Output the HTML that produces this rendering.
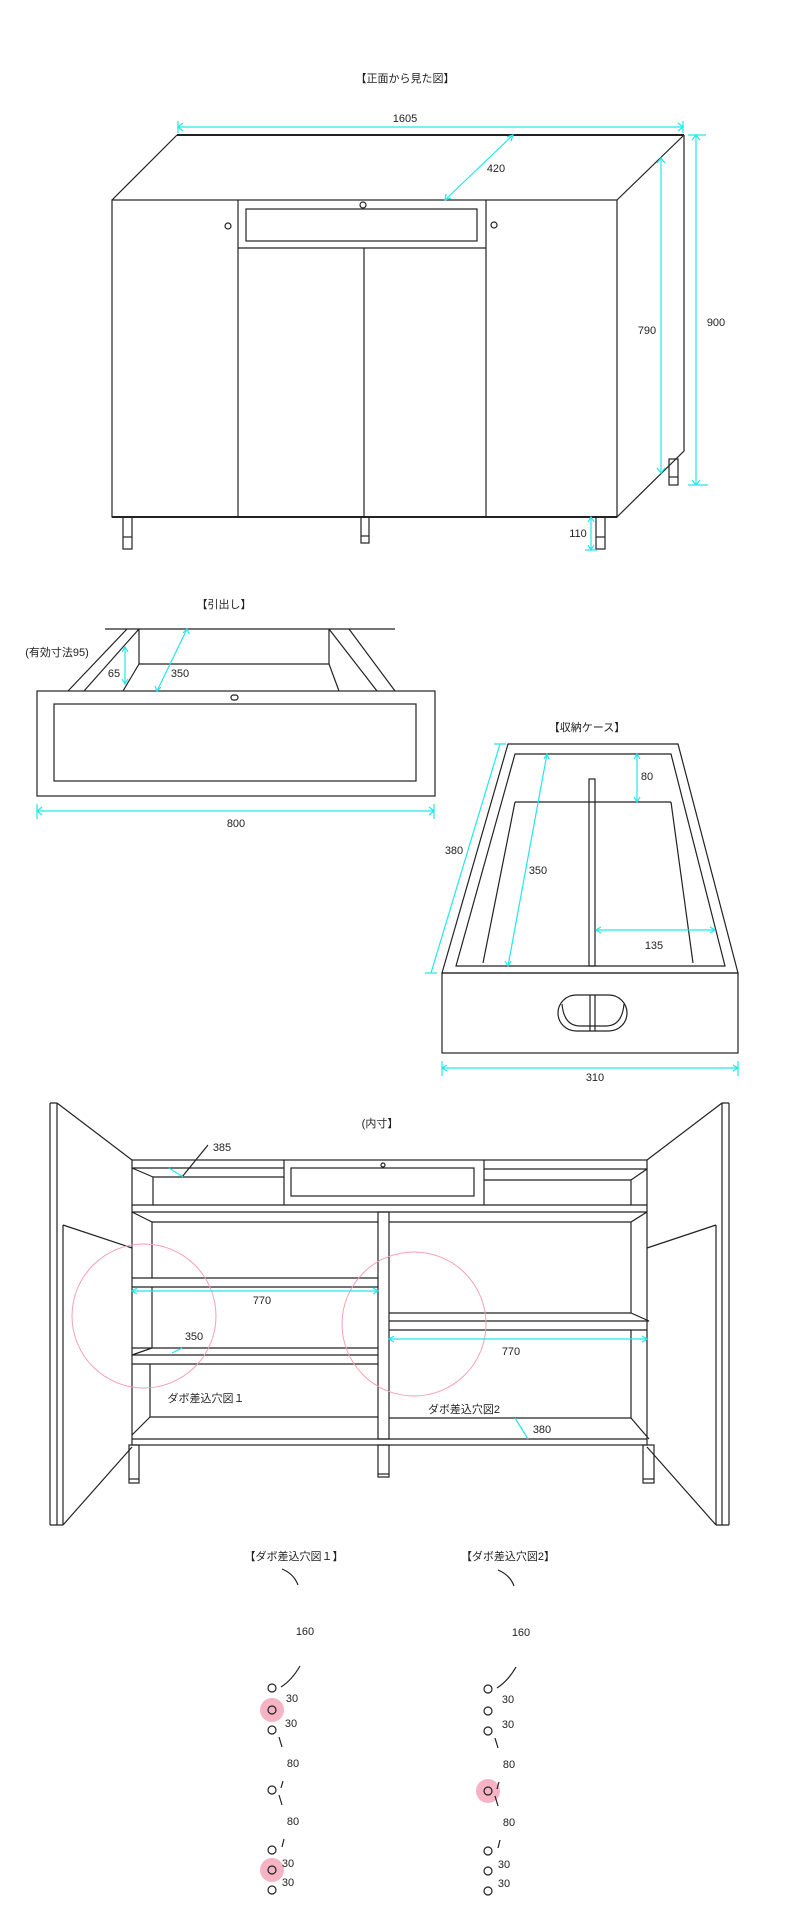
<!DOCTYPE html>
<html><head><meta charset="utf-8"><style>
html,body{margin:0;padding:0;background:#fff}
svg{display:block}
text{font-family:"Liberation Sans","Noto Sans CJK JP",sans-serif;font-size:11px;fill:#222;text-anchor:middle}
.l{stroke:#222;stroke-width:1.2;fill:none}
.t{stroke:#222;stroke-width:2;fill:none}
.c{stroke:#22e6ee;stroke-width:1.2;fill:none}
.p{stroke:#f4a0b0;stroke-width:1;fill:none}
</style></head><body>
<svg width="800" height="1928" viewBox="0 0 800 1928" xmlns="http://www.w3.org/2000/svg">
<!-- Front view -->
<text x="405" y="82">【正面から見た図】</text>
<text x="405" y="122">1605</text>
<line class="c" x1="178" y1="127" x2="683" y2="127"/>
<path class="c" d="M183 123 L178 127 L183 131 M678 123 L683 127 L678 131 M178 121V133 M683 121V133"/>
<path class="t" d="M177 135 H684"/>
<path class="l" d="M177 135 L112 200 M684 135 L617 200 M684 135 V451 L617 517"/>
<rect class="l" x="112" y="200" width="505" height="317"/>
<path class="t" d="M112 517 H617"/>
<path class="l" d="M238 200V517 M364 248V517 M486 200V517 M238 248H486"/>
<rect class="l" x="246" y="209" width="231" height="32"/>
<circle class="l" cx="363" cy="205" r="3"/><circle class="l" cx="228" cy="226" r="3"/><circle class="l" cx="494" cy="225" r="3"/>
<rect class="l" x="123" y="517" width="9" height="32"/><path class="l" d="M123 537H132"/>
<rect class="l" x="361" y="517" width="8" height="26"/><path class="l" d="M361 536H369"/>
<rect class="l" x="596" y="517" width="9" height="32"/><path class="l" d="M596 537H605"/>
<rect class="l" x="669" y="459" width="9" height="26"/><path class="l" d="M669 477H678"/>
<line class="c" x1="513" y1="135" x2="445" y2="200"/>
<path class="c" d="M507 137 L513 135 L511 141 M446 194 L445 200 L451 198"/>
<text x="496" y="172">420</text>
<line class="c" x1="661" y1="158" x2="661" y2="473"/>
<path class="c" d="M657 163 L661 158 L665 163 M657 468 L661 473 L665 468"/>
<text x="647" y="334">790</text>
<line class="c" x1="696" y1="135" x2="696" y2="485"/>
<path class="c" d="M688 135H706 M688 485H708 M692 140L696 135L700 140 M692 480L696 485L700 480"/>
<text x="716" y="326">900</text>
<line class="c" x1="591" y1="517" x2="591" y2="550"/>
<path class="c" d="M585 550H597 M588 522L591 517L594 522 M588 545L591 550L594 545"/>
<text x="578" y="537">110</text>

<!-- Drawer -->
<text x="224" y="608">【引出し】</text>
<path class="l" d="M105 629H395"/>
<rect class="l" x="37" y="691" width="398" height="105"/>
<rect class="l" x="54" y="704" width="362" height="77"/>
<rect class="l" x="231" y="695" width="7" height="5" rx="2.5"/>
<path class="l" d="M139 629V664H329V629 M127 629L68 691 M139 629L84 691 M139 664L123 691 M329 629L377 691 M349 629L395 691 M329 664L339 691"/>
<line class="c" x1="125" y1="647" x2="125" y2="684"/>
<path class="c" d="M122 652L125 647L128 652 M122 679L125 684L128 679"/>
<text x="114" y="677">65</text>
<line class="c" x1="187" y1="629" x2="157" y2="691"/>
<path class="c" d="M183 633L187 629L189 634 M155 686L157 691L161 687"/>
<text x="180" y="677">350</text>
<text x="57" y="656">(有効寸法95)</text>
<line class="c" x1="37" y1="811" x2="434" y2="811"/>
<path class="c" d="M37 804V819 M434 804V819 M42 807L37 811L42 815 M429 807L434 811L429 815"/>
<text x="236" y="827">800</text>

<!-- Storage case -->
<text x="587" y="731">【収納ケース】</text>
<path class="l" d="M508 744H678L738 973H442Z"/>
<rect class="l" x="442" y="973" width="296" height="80"/>
<path class="l" d="M515 754H671L725 966H456Z M515 802H671 M515 802L483 963 M671 802L693 963"/>
<rect class="l" x="589" y="779" width="6" height="187" fill="#fff"/>
<rect class="l" x="558" y="995" width="69" height="36" rx="18"/>
<path class="l" d="M562 1004 Q564 1026 580 1026 H606 Q622 1026 624 1004 M590 995V1031 M595 995V1031"/>
<line class="c" x1="500" y1="744" x2="431" y2="973"/>
<path class="c" d="M494 744H506 M425 973H437"/>
<text x="454" y="854">380</text>
<line class="c" x1="547" y1="754" x2="508" y2="966"/>
<path class="c" d="M544 759L547 754L549 759 M505 961L508 966L511 961"/>
<text x="538" y="874">350</text>
<line class="c" x1="637" y1="754" x2="637" y2="802"/>
<path class="c" d="M634 759L637 754L640 759 M634 797L637 802L640 797"/>
<text x="647" y="780">80</text>
<line class="c" x1="596" y1="930" x2="715" y2="930"/>
<path class="c" d="M601 927L596 930L601 933 M710 927L715 930L710 933"/>
<text x="654" y="949">135</text>
<line class="c" x1="442" y1="1068" x2="738" y2="1068"/>
<path class="c" d="M442 1061V1076 M738 1061V1076 M447 1065L442 1068L447 1071 M733 1065L738 1068L733 1071"/>
<text x="595" y="1081">310</text>

<!-- Interior -->
<text x="380" y="1127">(内寸】</text>
<path class="l" d="M50 1103V1525 M57 1103V1525 M63 1225V1525 M50 1103H57 M50 1525H63 M57 1103L132 1160 M63 1225L132 1248 M63 1525L132 1447"/>
<path class="l" d="M729 1103V1525 M722 1103V1525 M716 1225V1525 M722 1103H729 M716 1525H729 M722 1103L647 1160 M716 1225L647 1248 M716 1525L647 1447"/>
<rect class="l" x="132" y="1160" width="515" height="285"/>
<path class="l" d="M132 1168H284 M153 1177H284 M153 1177V1205 M132 1168L153 1177 M484 1169H647 M484 1180H631 M631 1180V1205 M647 1169L631 1180 M132 1205H647 M132 1212H647 M284 1160V1205 M484 1160V1205"/>
<rect class="l" x="291" y="1168" width="183" height="28"/>
<circle class="l" cx="383" cy="1165" r="2"/>
<rect class="l" x="378" y="1212" width="11" height="227"/>
<path class="l" d="M152 1222H378 M132 1212L152 1222 M152 1222V1278 M132 1278H378 M132 1287H378 M152 1287V1348 M132 1348H378 M132 1355H378 M132 1364H378 M132 1355L152 1348 M150 1364V1417H378 M150 1417L132 1435 M132 1439H647"/>
<path class="l" d="M389 1222H631 M647 1212L631 1222 M631 1222V1313 M389 1313H631 M389 1321H649 M389 1330H647 M631 1313L649 1321 M631 1330V1418 M389 1418H631 M631 1418L649 1439"/>
<rect class="l" x="129" y="1445" width="10" height="38"/><path class="l" d="M129 1479H139"/>
<rect class="l" x="378" y="1445" width="11" height="32"/><path class="l" d="M378 1474H389"/>
<rect class="l" x="643" y="1445" width="11" height="38"/><path class="l" d="M643 1479H654"/>
<circle class="p" cx="144" cy="1316" r="72"/>
<circle class="p" cx="414" cy="1324" r="72"/>
<line class="c" x1="132" y1="1291" x2="378" y2="1291"/>
<path class="c" d="M137 1288L132 1291L137 1294 M373 1288L378 1291L373 1294"/>
<text x="262" y="1304">770</text>
<line class="c" x1="389" y1="1339" x2="647" y2="1339"/>
<path class="c" d="M394 1336L389 1339L394 1342 M642 1336L647 1339L642 1342"/>
<text x="511" y="1355">770</text>
<text x="194" y="1340">350</text>
<line class="c" x1="172" y1="1353" x2="182" y2="1348"/>
<text x="222" y="1151">385</text>
<line class="l" x1="208" y1="1145" x2="182" y2="1177"/>
<line class="c" x1="169" y1="1168" x2="183" y2="1177"/>
<text x="542" y="1433">380</text>
<line class="c" x1="515" y1="1418" x2="528" y2="1439"/>
<text x="206" y="1402">ダボ差込穴図１</text>
<text x="464" y="1413">ダボ差込穴図2</text>

<!-- Dowel diagrams -->
<text x="294" y="1560">【ダボ差込穴図１】</text>
<text x="508" y="1560">【ダボ差込穴図2】</text>
<circle cx="272" cy="1710" r="12" fill="#f6b3c4"/>
<circle cx="272" cy="1870" r="12" fill="#f6b3c4"/>
<circle cx="488" cy="1791" r="12" fill="#f6b3c4"/>
<g class="l">
<circle cx="272" cy="1688" r="4"/><circle cx="272" cy="1710" r="4"/><circle cx="272" cy="1730" r="4"/><circle cx="272" cy="1790" r="4"/><circle cx="272" cy="1850" r="4"/><circle cx="272" cy="1870" r="4"/><circle cx="272" cy="1890" r="4"/>
<circle cx="488" cy="1689" r="4"/><circle cx="488" cy="1711" r="4"/><circle cx="488" cy="1731" r="4"/><circle cx="488" cy="1791" r="4"/><circle cx="488" cy="1851" r="4"/><circle cx="488" cy="1871" r="4"/><circle cx="488" cy="1891" r="4"/>
<path d="M282 1569Q294 1574 298 1585 M300 1666Q292 1680 281 1687 M279 1737L282 1747 M283 1781L281 1788 M279 1795L282 1805 M284 1839L282 1847"/>
<path d="M498 1570Q510 1575 514 1586 M516 1667Q508 1681 497 1688 M495 1738L498 1748 M499 1782L497 1789 M495 1796L498 1806 M500 1840L498 1848"/>
</g>
<text x="305" y="1635">160</text>
<text x="292" y="1702">30</text><text x="291" y="1727">30</text><text x="293" y="1767">80</text><text x="293" y="1825">80</text><text x="288" y="1867">30</text><text x="288" y="1886">30</text>
<text x="521" y="1636">160</text>
<text x="508" y="1703">30</text><text x="508" y="1728">30</text><text x="509" y="1768">80</text><text x="509" y="1826">80</text><text x="504" y="1868">30</text><text x="504" y="1887">30</text>
</svg>
</body></html>
